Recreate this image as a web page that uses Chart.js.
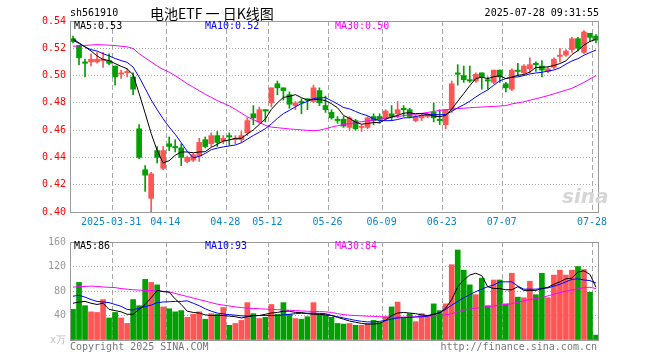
<!DOCTYPE html>
<html>
<head>
<meta charset="utf-8">
<script src="https://cdn.jsdelivr.net/npm/chart.js@4.4.1/dist/chart.umd.min.js"></script>
<style>
  body { margin: 0; background: #fff; }
  #wrap { position: relative; width: 660px; height: 360px; overflow: hidden; background: #fff; }
  canvas { position: absolute; left: 0; }
  .t { position: absolute; font: 10px 'DejaVu Sans Mono', monospace; line-height: 12px; white-space: pre; color: #000; }
</style>
</head>
<body>
<div id="wrap">
  <canvas id="kline" width="660" height="232" style="top:0"></canvas>
  <canvas id="vol" width="660" height="128" style="top:232px"></canvas>

  <div class="t" style="left:70px;top:7px">sh561910</div>
  <div class="t" style="left:150px;top:4px;font:14px 'Noto Sans CJK SC';line-height:18px">电池ETF 一 日K线图</div>
  <div class="t" style="right:61px;top:7px">2025-07-28 09:31:55</div>

  <div class="t" style="left:74px;top:20px">MA5:0.53</div>
  <div class="t" style="left:205px;top:20px;color:#0000ff">MA10:0.52</div>
  <div class="t" style="left:335px;top:20px;color:#ff00ff">MA30:0.50</div>

  <div class="t" style="left:74px;top:240px">MA5:86</div>
  <div class="t" style="left:205px;top:240px;color:#0000ff">MA10:93</div>
  <div class="t" style="left:335px;top:240px;color:#ff00ff">MA30:84</div>

  <div class="t" style="left:562px;top:184px;font:italic bold 20px 'DejaVu Sans';line-height:24px;color:#d6d6d6">sina</div>

  <div class="t" style="left:70px;top:341px;color:#777">Copyright 2025 SINA.COM</div>
  <div class="t" style="right:63px;top:341px;color:#777">http://finance.sina.com.cn</div>
</div>

<script>
// Daily K-line, 561910 电池ETF

const dates = [
    '03-20', '03-21', '03-24', '03-25', '03-26', '03-27', '03-28', '03-31', '04-01', '04-02',
    '04-03', '04-07', '04-08', '04-09', '04-10', '04-11', '04-14', '04-15', '04-16', '04-17',
    '04-18', '04-21', '04-22', '04-23', '04-24', '04-25', '04-28', '04-29', '04-30', '05-06',
    '05-07', '05-08', '05-09', '05-12', '05-13', '05-14', '05-15', '05-16', '05-19', '05-20',
    '05-21', '05-22', '05-23', '05-26', '05-27', '05-28', '05-29', '05-30', '06-03', '06-04',
    '06-05', '06-06', '06-09', '06-10', '06-11', '06-12', '06-13', '06-16', '06-17', '06-18',
    '06-19', '06-20', '06-23', '06-24', '06-25', '06-26', '06-27', '06-30', '07-01', '07-02',
    '07-03', '07-04', '07-07', '07-08', '07-09', '07-10', '07-11', '07-14', '07-15', '07-16',
    '07-17', '07-18', '07-21', '07-22', '07-23', '07-24', '07-25', '07-28'
];

const tickDates = ['03-31', '04-14', '04-28', '05-12', '05-26', '06-09', '06-23', '07-07', '07-28'];
const tickTexts = ['2025-03-31', '04-14', '04-28', '05-12', '05-26', '06-09', '06-23', '07-07', '07-28'];

const opens = [
    .527, .522, .510, .510, .510, .511, .511, .507, .501, .502,
    .499, .461, .431, .410, .445, .432, .450, .448, .447, .437,
    .438, .441, .453, .450, .456, .452, .456, .453, .453, .458,
    .472, .466, .475, .480, .494, .491, .486, .478, .481, .483,
    .481, .489, .478, .473, .468, .468, .462, .467, .462, .462,
    .470, .470, .469, .472, .472, .476, .475, .467, .469, .470,
    .473, .468, .464, .475, .502, .500, .497, .496, .502, .497,
    .495, .504, .494, .490, .504, .502, .505, .509, .507, .503,
    .506, .514, .515, .519, .527, .517, .531, .529
];
const highs = [
    .529, .522, .512, .516, .517, .517, .516, .507, .504, .505,
    .502, .464, .434, .429, .448, .448, .455, .453, .450, .441,
    .443, .454, .455, .458, .459, .456, .458, .456, .459, .469,
    .478, .477, .475, .491, .496, .491, .488, .481, .483, .483,
    .493, .491, .485, .475, .470, .470, .470, .468, .464, .470,
    .472, .472, .475, .478, .481, .478, .476, .471, .472, .473,
    .480, .475, .475, .496, .508, .507, .507, .502, .502, .499,
    .504, .504, .495, .505, .509, .508, .513, .510, .511, .506,
    .513, .520, .519, .528, .528, .533, .531, .530
];
const lows = [
    .524, .508, .499, .507, .509, .506, .508, .493, .498, .499,
    .486, .439, .415, .400, .436, .431, .445, .444, .434, .436,
    .437, .437, .447, .448, .448, .450, .449, .450, .451, .456,
    .464, .465, .466, .477, .486, .482, .476, .475, .472, .475,
    .480, .478, .473, .468, .465, .462, .460, .460, .459, .461,
    .464, .465, .467, .467, .469, .470, .469, .466, .467, .469,
    .466, .464, .461, .473, .493, .495, .495, .495, .490, .490,
    .494, .495, .488, .489, .500, .501, .502, .503, .499, .502,
    .505, .510, .514, .517, .518, .516, .525, .524
];
const closes = [
    .525, .513, .509, .512, .512, .512, .509, .499, .502, .503,
    .490, .440, .427, .428, .440, .445, .448, .447, .440, .440,
    .442, .451, .448, .456, .451, .454, .455, .454, .456, .467,
    .469, .475, .474, .491, .491, .489, .479, .480, .480, .482,
    .491, .480, .475, .469, .467, .463, .469, .461, .462, .469,
    .467, .468, .474, .470, .475, .475, .470, .470, .471, .472,
    .469, .467, .475, .494, .501, .497, .496, .501, .499, .496,
    .504, .499, .491, .504, .503, .507, .508, .508, .504, .505,
    .512, .515, .518, .527, .520, .532, .528, .526
];

const ma5 = [
    .527, .524, .521, .518, .5144, .5118, .511, .5088, .5068, .505,
    .5006, .4868, .4724, .4576, .445, .436, .4376, .4416, .444, .444,
    .4434, .444, .4442, .4474, .4496, .452, .4528, .454, .454, .4572,
    .4602, .4642, .4682, .4752, .480, .484, .4848, .486, .4838, .482,
    .4824, .4826, .4816, .4794, .4764, .4708, .4686, .4658, .4644, .4648,
    .4656, .4654, .468, .4696, .4708, .4724, .4728, .472, .4722, .4716,
    .4704, .4698, .4708, .4754, .4812, .4868, .4926, .4978, .4988, .4978,
    .4992, .4998, .4978, .4988, .5002, .5008, .5026, .506, .506, .5064,
    .5074, .5088, .5108, .5154, .5184, .5224, .525, .5266
];
const ma10 = [
    .526, .5235, .521, .519, .518, .516, .5145, .5125, .511, .5097,
    .5062, .4989, .4906, .4822, .475, .4683, .4622, .457, .4508, .4445,
    .4397, .4408, .4429, .4457, .4468, .4477, .4484, .4491, .4507, .4534,
    .4561, .4585, .4611, .4646, .4686, .4721, .4745, .4771, .4795, .481,
    .4832, .4837, .4838, .4816, .4792, .4766, .4756, .4737, .4719, .4706,
    .4682, .467, .4669, .467, .4678, .469, .4691, .470, .4709, .4712,
    .4714, .4713, .4714, .4738, .4764, .4786, .4812, .4843, .4871, .4895,
    .493, .4962, .4978, .4988, .499, .500, .5012, .5019, .5024, .5033,
    .5041, .5057, .5084, .5107, .5124, .5149, .5169, .5187
];
const ma30 = [
    .5215, .5218, .5221, .5224, .5227, .5225, .5223, .522, .5215, .5211,
    .5198, .516, .513, .510, .507, .5045, .5025, .4999, .497, .494,
    .4915, .4889, .4863, .484, .4817, .4797, .4778, .4752, .4725, .4697,
    .4677, .4657, .4635, .4622, .4618, .4613, .4609, .4605, .4602, .4598,
    .4596, .460, .461, .4622, .4632, .464, .4648, .4655, .4662, .4667,
    .4673, .468, .4688, .4695, .470, .4706, .4712, .4718, .4723, .473,
    .4737, .4744, .475, .4754, .4758, .4761, .4764, .4767, .4769, .4772,
    .4774, .4777, .478, .4792, .480, .4808, .4819, .483, .4841, .4853,
    .4866, .488, .4893, .4907, .4928, .495, .4975, .500
];

// volume in 万
const volumes = [
    50, 94, 56, 46, 45, 66, 36, 45, 36, 27,
    66, 56, 99, 94, 90, 54, 51, 46, 48, 37,
    42, 46, 34, 43, 42, 53, 24, 27, 32, 61,
    43, 35, 37, 58, 42, 61, 42, 35, 34, 38,
    61, 42, 41, 37, 27, 26, 27, 24, 24, 27,
    32, 29, 38, 54, 62, 37, 43, 30, 43, 40,
    59, 48, 59, 123, 147, 114, 90, 74, 101, 56,
    98, 98, 59, 109, 70, 69, 96, 74, 109, 69,
    106, 114, 106, 114, 120, 115, 78, 8
];
const volMa5 = [
    60, 62, 63, 60, 58, 60, 50, 48, 46, 42,
    42, 50, 58, 69, 81, 79, 78, 67, 58, 47,
    45, 44, 41, 40, 40, 40, 39, 38, 36, 38,
    40, 40, 42, 44, 45, 47, 47, 45, 45, 43,
    42, 42, 41, 40, 37, 34, 31, 29, 27, 26,
    26, 27, 32, 40, 44, 45, 44, 43, 41, 40,
    42, 44, 52, 66, 87, 98, 106, 109, 105, 87,
    84, 84, 82, 82, 87, 81, 81, 81, 84, 86,
    91, 95, 100, 101, 111, 113, 107, 86
];
const volMa10 = [
    71.5, 73, 70, 66, 63, 62, 61, 58, 55, 50,
    49, 52, 54.5, 57, 61, 62, 62.5, 63, 63, 64,
    60, 56, 51, 47, 44, 42.5, 41.5, 40.5, 39.5, 39,
    39.5, 40, 40, 40, 40, 41, 42, 43, 43.5, 43.7,
    43.7, 43.5, 43, 40, 38, 36, 34, 32, 30.5, 29.5,
    29.5, 30.5, 32, 34, 36, 36.5, 37, 37.5, 38, 39,
    42, 45, 50, 57, 63, 69, 74, 79, 83, 87,
    90, 95, 95, 95, 88, 83, 83, 83, 84, 85,
    88, 91, 95, 99, 100, 98, 97, 93
];
const volMa30 = [
    86.4, 87, 87.5, 88, 87.5, 86.5, 86, 85.5, 84, 83,
    82, 81.5, 81, 80.5, 80, 79.5, 78.5, 76, 73.5, 71,
    68.5, 66, 63.5, 61, 58.5, 57, 55.5, 54, 53, 52,
    51.5, 51, 50.5, 50, 49.5, 49, 48.5, 48, 47.5, 47,
    46.7, 46.4, 46, 45, 43, 41.5, 40.5, 40, 39.5, 39,
    38.5, 38, 37.5, 37.3, 37.3, 37.3, 37.5, 38, 38.4, 39,
    39.5, 40, 41, 43, 46, 49, 50.5, 52, 53.3, 54.5,
    55.5, 57, 58, 59.5, 61.5, 64, 66, 68, 69.5, 72,
    75, 77.5, 79.5, 81.5, 83.5, 85.5, 86, 84
];

const MONO = "'DejaVu Sans Mono', monospace";
const UP = '#ff5555';
const DOWN = '#00a000';
const GRID = '#a8a8a8';

const barColors = closes.map((c, i) => c >= opens[i] ? UP : DOWN);

// draws the grey box round the plot area
const framePlugin = {
    id: 'frame',
    afterDatasetsDraw(chart) {
        const { ctx, chartArea: a } = chart;
        ctx.save();
        ctx.strokeStyle = '#9a9a9a';
        ctx.lineWidth = 1;
        ctx.strokeRect(Math.round(a.left) + 0.5, Math.round(a.top) + 0.5,
            Math.round(a.right - a.left) - 1, Math.round(a.bottom - a.top));
        ctx.restore();
    }
};

function xAxis(showLabels) {
    return {
        offset: true,
        grid: {
            offset: true,
            drawTicks: false,
            color: ctx => tickDates.includes(dates[ctx.index]) ? GRID : 'transparent'
        },
        border: { display: false, dash: [5, 3] },
        ticks: {
            display: showLabels,
            autoSkip: false,
            maxRotation: 0,
            minRotation: 0,
            padding: 4,
            labelOffset: -4,
            color: '#0a86cc',
            font: { family: MONO, size: 10 },
            callback: function(value, index) {
                const k = tickDates.indexOf(dates[index]);
                return k < 0 ? '' : tickTexts[k];
            }
        },
        afterFit: s => { s.height = showLabels ? 20 : 0; }
    };
}

function maLine(data, color) {
    return {
        type: 'line',
        data: data,
        borderColor: color,
        backgroundColor: color,
        borderWidth: 1,
        pointRadius: 0,
        tension: 0,
        order: 0
    };
}

const common = {
    responsive: false,
    animation: false,
    events: [],
    plugins: { legend: { display: false }, tooltip: { enabled: false } }
};

new Chart(document.getElementById('kline'), {
    type: 'bar',
    data: {
        labels: dates,
        datasets: [
            maLine(ma5, '#000000'),
            maLine(ma10, '#0000ff'),
            maLine(ma30, '#ff00ff'),
            {
                data: opens.map((o, i) => [o, closes[i]]),
                backgroundColor: barColors,
                barThickness: 5,
                minBarLength: 1,
                grouped: false,
                order: 1
            },
            {
                data: lows.map((l, i) => [l, highs[i]]),
                backgroundColor: barColors,
                barThickness: 1,
                grouped: false,
                order: 2
            }
        ]
    },
    options: {
        ...common,
        layout: { padding: { top: 21, right: 61, bottom: 0, left: 0 } },
        scales: {
            x: xAxis(true),
            y: {
                min: 0.40,
                max: 0.54,
                ticks: {
                    stepSize: 0.02,
                    padding: 4,
                    color: '#ff0000',
                    font: { family: MONO, size: 10 },
                    callback: v => v.toFixed(2)
                },
                grid: {
                    drawTicks: false,
                    color: ctx => (ctx.tick && ctx.tick.value > 0.401 && ctx.tick.value < 0.539) ? GRID : 'transparent'
                },
                border: { display: false, dash: [1, 2] },
                afterFit: s => { s.width = 70; }
            }
        }
    },
    plugins: [framePlugin]
});

new Chart(document.getElementById('vol'), {
    type: 'bar',
    data: {
        labels: dates,
        datasets: [
            maLine(volMa5, '#000000'),
            maLine(volMa10, '#0000ff'),
            maLine(volMa30, '#ff00ff'),
            {
                data: volumes,
                backgroundColor: barColors,
                barThickness: 5,
                grouped: false,
                order: 1
            }
        ]
    },
    options: {
        ...common,
        layout: { padding: { top: 8, right: 61, bottom: 20, left: 0 } },
        scales: {
            x: xAxis(false),
            y: {
                min: 0,
                max: 160,
                ticks: {
                    stepSize: 40,
                    padding: 4,
                    color: ctx => ctx.tick && ctx.tick.value === 0 ? '#c0c0c0' : '#999999',
                    font: { family: MONO, size: 10 },
                    callback: v => v === 0 ? 'x万' : String(v)
                },
                grid: {
                    drawTicks: false,
                    color: ctx => (ctx.tick && ctx.tick.value > 0 && ctx.tick.value < 160) ? GRID : 'transparent'
                },
                border: { display: false, dash: [1, 2] },
                afterFit: s => { s.width = 70; }
            }
        }
    },
    plugins: [framePlugin]
});
</script>
</body>
</html>
